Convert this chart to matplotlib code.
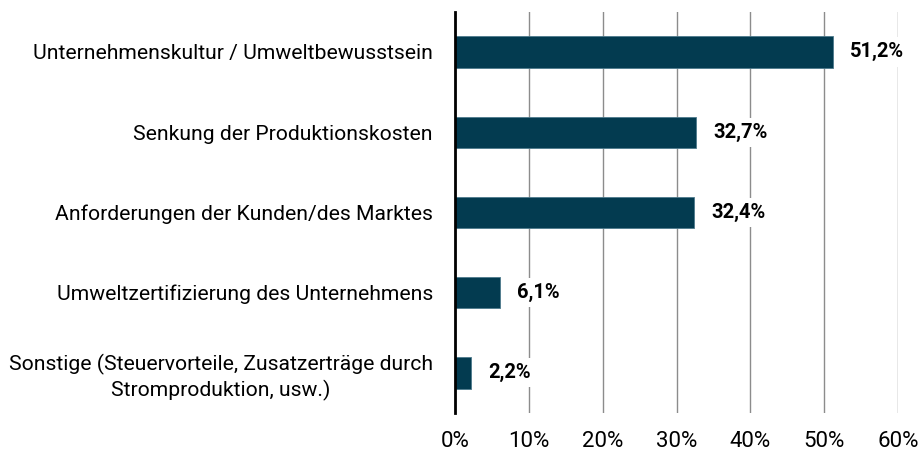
import matplotlib
matplotlib.use("Agg")
import matplotlib.pyplot as plt
from matplotlib.ticker import FuncFormatter

categories = [
    "Unternehmenskultur / Umweltbewusstsein",
    "Senkung der Produktionskosten",
    "Anforderungen der Kunden/des Marktes",
    "Umweltzertifizierung des Unternehmens",
    "Sonstige (Steuervorteile, Zusatzerträge durch\nStromproduktion, usw.)",
]
values = [51.2, 32.7, 32.4, 6.1, 2.2]
xticks = [0, 10, 20, 30, 40, 50, 60]

plt.rcParams['font.family'] = ['Roboto', 'DejaVu Sans']
fig = plt.figure(figsize=(9.22, 4.54), dpi=100)
ax = fig.add_axes([0.4935, 0.0903, 0.4805, 0.8837])

y = list(range(len(categories)))
ax.barh(y, values, height=0.39, color="#033b50", edgecolor="#4d7a8c", linewidth=0.6, zorder=3)
ax.set_ylim(len(categories) - 0.5, -0.5)
ax.set_xlim(0, 60)
ax.set_xticks(xticks)
ax.xaxis.set_major_formatter(FuncFormatter(lambda v, p: f"{int(v)}%"))
ax.set_yticks(y)
ax.set_yticklabels(categories, fontsize=15.2, ha="right", multialignment="center",
                   linespacing=1.3)
ax.tick_params(axis="y", length=0, pad=16)
ax.tick_params(axis="x", length=0, pad=13, labelsize=16)
ax.grid(axis="x", color="#8c8c8c", linewidth=1, zorder=0)
for s in ["top", "right", "bottom"]:
    ax.spines[s].set_visible(False)
ax.spines["left"].set_linewidth(2)
ax.spines["left"].set_zorder(4)

for yi, v in zip(y, values):
    ax.annotate(f"{v:.1f}%".replace(".", ","), xy=(v, yi), xytext=(17, 0),
                textcoords="offset pixels",
                va="center", ha="left", fontsize=14.5, fontweight="bold",
                bbox=dict(boxstyle="square,pad=0.25", fc="white", ec="none"), zorder=5)

fig.savefig("out.png", dpi=100)
